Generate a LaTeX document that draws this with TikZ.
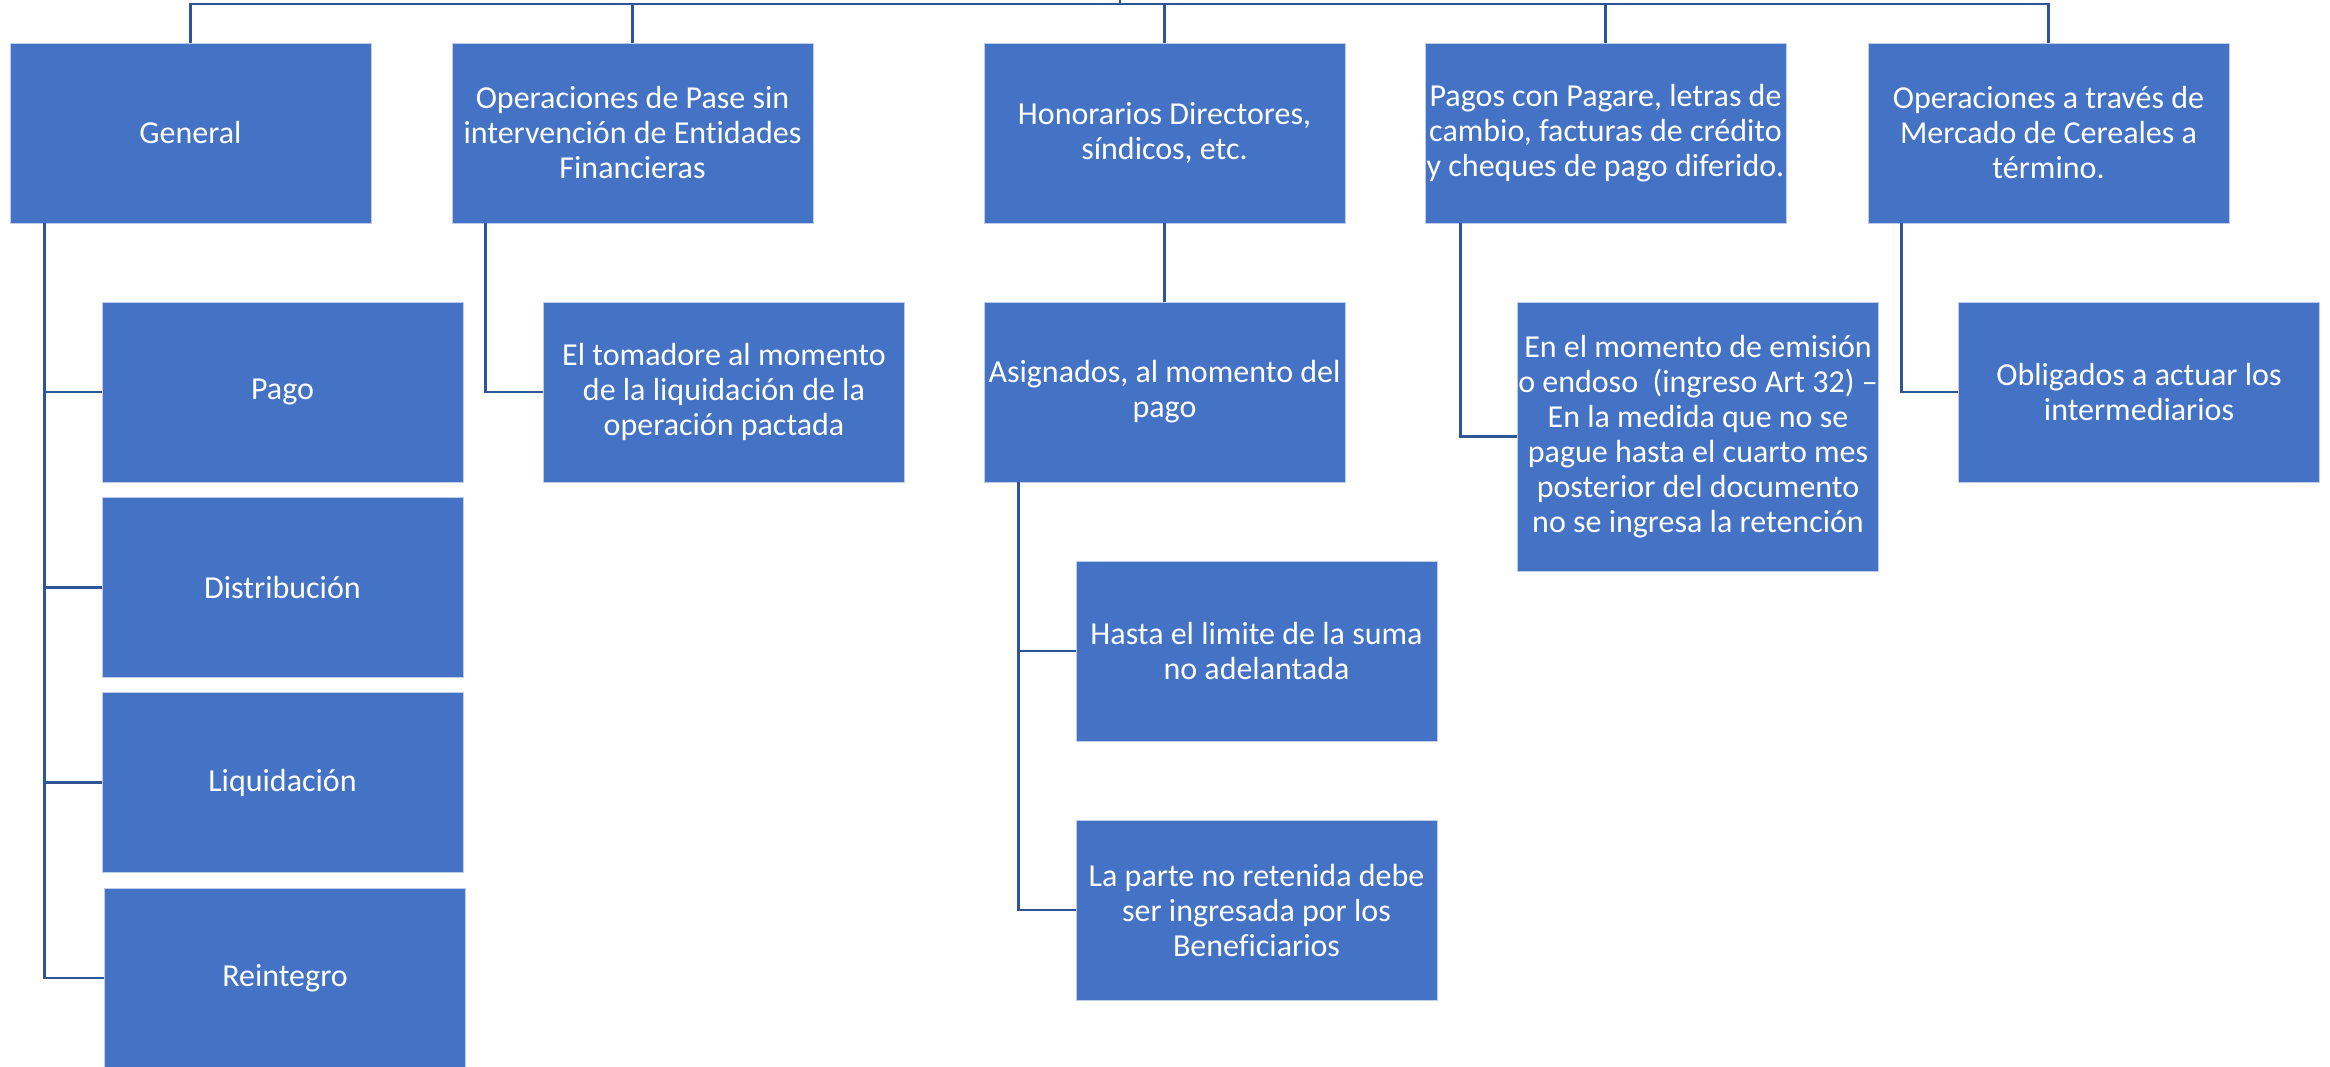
\documentclass[tikz,border=0pt]{standalone}
\usepackage{fontspec}
\setmainfont{Carlito}[Ligatures=NoCommon]
\definecolor{boxblue}{HTML}{4472C4}
\definecolor{lineblue}{HTML}{2F5597}
\begin{document}
\begin{tikzpicture}[x=0.5pt,y=-0.5pt,
    card/.style={rectangle,fill=boxblue,draw=white!65!boxblue,line width=0.4pt,
      minimum width=180.5pt,minimum height=90pt,inner xsep=0pt,inner ysep=2pt,
      align=center,text=white,font=\fontsize{16}{17.5}\selectfont},
    link/.style={draw=lineblue,line width=1.2pt}]
    \useasboundingbox (0,0) rectangle (2330,1066);
    \node[card] (gen)  at (190.5,133) {General};
    \node[card] (pase) at (632.5,133) {Operaciones de Pase sin\\intervención de Entidades\\Financieras};
    \node[card] (hon)  at (1164.5,133) {Honorarios Directores,\\síndicos, etc.};
    \node[card] (pag)  at (1605.5,133) {Pagos con Pagare, letras de\\cambio, facturas de crédito\\y cheques de pago diferido.};
    \node[card] (cer)  at (2048.5,133) {Operaciones a través de\\Mercado de Cereales a\\término.};
    \node[card] (pago) at (282.5,392) {Pago};
    \node[card] (dist) at (282.5,587.5) {Distribución};
    \node[card] (liq)  at (282.5,782.5) {Liquidación};
    \node[card] (rein) at (285,978) {Reintegro};
    \node[card] (tom)  at (724,392) {El tomadore al momento\\de la liquidación de la\\operación pactada};
    \node[card] (asig) at (1164.5,392) {Asignados, al momento del\\pago};
    \node[card,minimum height=134.5pt] (emis) at (1698,436.5) {En el momento de emisión\\o endoso~ (ingreso Art 32) –\\En la medida que no se\\pague hasta el cuarto mes\\posterior del documento\\no se ingresa la retención};
    \node[card] (obl)  at (2139,392) {Obligados a actuar los\\intermediarios};
    \node[card] (hasta) at (1256.5,651) {Hasta el limite de la suma\\no adelantada};
    \node[card] (parte) at (1256.5,910) {La parte no retenida debe\\ser ingresada por los\\Beneficiarios};
    \coordinate (root) at (1120,0);
    \coordinate (bus) at (1120,4);
    \draw[link] (root) -- (bus);
    \foreach \n in {gen,pase,hon,pag,cer}
      \draw[link] (bus) -| (\n.north);
    \foreach \n in {pago,dist,liq,rein}
      \draw[link] ([xshift=17.5pt]gen.south west) |- (\n.west);
    \draw[link] ([xshift=17pt]pase.south west) |- (tom.west);
    \draw[link] (hon.south) -- (asig.north);
    \foreach \n in {hasta,parte}
      \draw[link] ([xshift=17.5pt]asig.south west) |- (\n.west);
    \draw[link] ([xshift=18pt]pag.south west) |- (emis.west);
    \draw[link] ([xshift=17pt]cer.south west) |- (obl.west);
\end{tikzpicture}
\end{document}
